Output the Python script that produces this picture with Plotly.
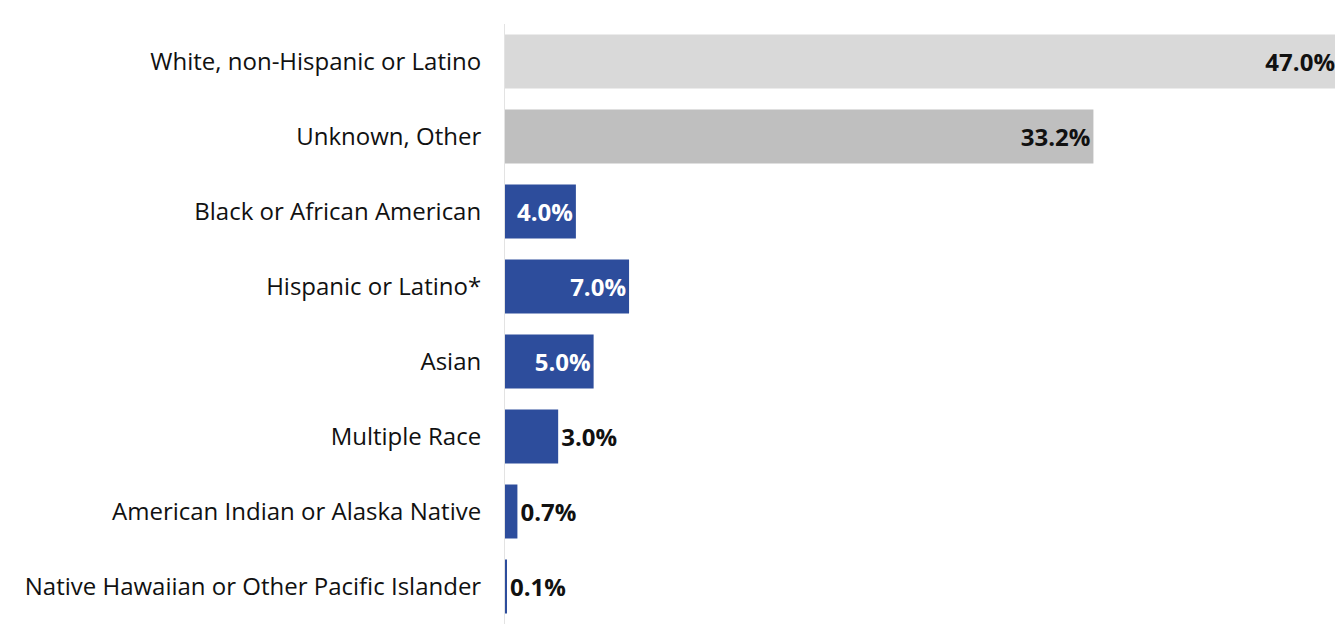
import plotly.graph_objects as go

categories = [
    "White, non-Hispanic or Latino",
    "Unknown, Other",
    "Black or African American",
    "Hispanic or Latino*",
    "Asian",
    "Multiple Race",
    "American Indian or Alaska Native",
    "Native Hawaiian or Other Pacific Islander",
]
values = [47.0, 33.2, 4.0, 7.0, 5.0, 3.0, 0.7, 0.1]
labels = ["47.0%", "33.2%", "4.0%", "7.0%", "5.0%", "3.0%", "0.7%", "0.1%"]

bar_colors = ["#d9d9d9", "#bfbfbf", "#2d4d9c", "#2d4d9c", "#2d4d9c", "#2d4d9c", "#2d4d9c", "#2d4d9c"]
text_colors = ["#111111", "#111111", "#ffffff", "#ffffff", "#ffffff", "#111111", "#111111", "#111111"]
text_pos = ["inside", "inside", "inside", "inside", "inside", "outside", "outside", "outside"]

FONT = "Open Sans, Noto Sans, sans-serif"

fig = go.Figure(
    go.Bar(
        y=categories,
        x=values,
        orientation="h",
        marker=dict(color=bar_colors, line=dict(width=0)),
        text=labels,
        textposition=text_pos,
        insidetextanchor="end",
        textfont=dict(family=FONT, size=24, color=text_colors, weight="bold"),
        constraintext="none",
        cliponaxis=False,
        hoverinfo="skip",
    )
)

fig.update_layout(
    width=1335,
    height=624,
    autosize=False,
    margin=dict(l=497, r=5, t=16, b=8),
    paper_bgcolor="#ffffff",
    plot_bgcolor="#ffffff",
    bargap=0.28,
    showlegend=False,
    font=dict(family=FONT, size=24, color="#111111"),
)
fig.update_xaxes(range=[0, 47], visible=False, showgrid=False, zeroline=False)
fig.update_yaxes(
    autorange="reversed",
    showgrid=False,
    zeroline=False,
    showline=True,
    linecolor="#e3e3e3",
    linewidth=1,
    ticks="",
    ticklabelstandoff=18,
    tickfont=dict(family=FONT, size=24, color="#111111"),
    automargin=False,
)

fig.write_html("out.html")
